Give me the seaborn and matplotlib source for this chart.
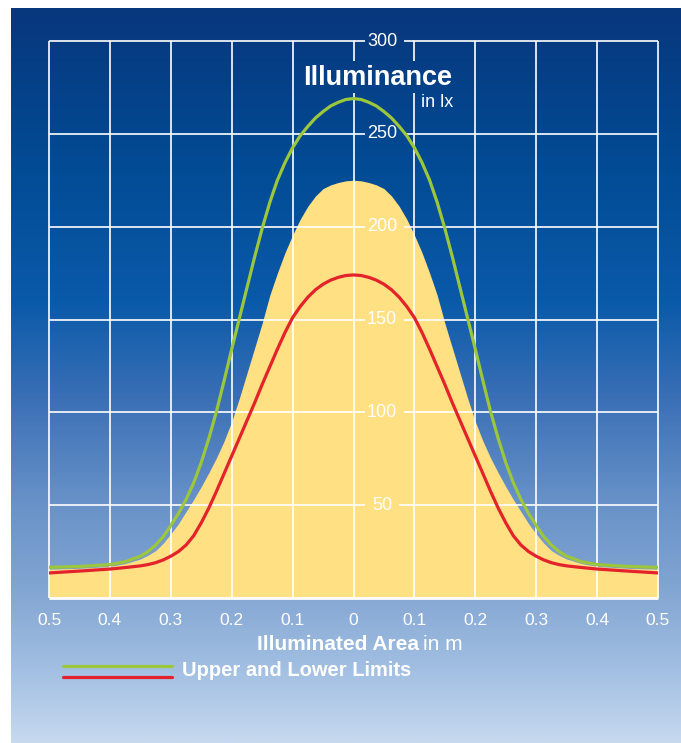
import numpy as np
import seaborn as sns
import matplotlib.pyplot as plt
from matplotlib.colors import LinearSegmentedColormap
from matplotlib.lines import Line2D

# Positions along the illuminated area (m), negative = left half
x_pos = [-0.5, -0.45, -0.4, -0.375, -0.35, -0.3375, -0.325, -0.3125, -0.3, -0.2875,
         -0.275, -0.2625, -0.25, -0.2375, -0.225, -0.2125, -0.2, -0.1875, -0.175, -0.1625,
         -0.15, -0.1375, -0.125, -0.1125, -0.1, -0.0875, -0.075, -0.0625, -0.05, -0.0375,
         -0.025, -0.0125,
         0.0,
         0.0125, 0.025, 0.0375, 0.05, 0.0625, 0.075, 0.0875, 0.1, 0.1125, 0.125,
         0.1375, 0.15, 0.1625, 0.175, 0.1875, 0.2, 0.2125, 0.225, 0.2375, 0.25,
         0.2625, 0.275, 0.2875, 0.3, 0.3125, 0.325, 0.3375, 0.35, 0.375, 0.4, 0.45, 0.5]

# Illuminance in lx
nominal = [15.5, 16, 17, 18.5, 21, 23, 25.5, 29.5, 34.5, 40, 46.5, 53, 60, 67.5, 75.5, 84.5,
           95, 107.5, 121, 134.5, 148, 163, 175, 186, 195.5, 204, 211, 216.5, 220.5, 222.5,
           223.8, 224.7,
           225,
           224.7, 223.8, 222.5, 220.5, 216.5, 211, 204, 195.5, 186, 175, 163, 148, 134.5,
           121, 107.5, 95, 84.5, 75.5, 67.5, 60, 53, 46.5, 40, 34.5, 29.5, 25.5, 23, 21,
           18.5, 17, 16, 15.5]
upper = [16.5, 17, 18, 19.5, 22.5, 25, 28.5, 33, 39, 45.5, 53, 62, 73, 86, 100.5, 117,
         134, 150.5, 167, 183.5, 199, 213, 225, 234.5, 242.5, 249, 254, 258.5, 262, 265,
         267, 268.5,
         269,
         268.5, 267, 265, 262, 258.5, 254, 249, 242.5, 234.5, 225, 213, 199, 183.5, 167,
         150.5, 134, 117, 100.5, 86, 73, 62, 53, 45.5, 39, 33, 28.5, 25, 22.5, 19.5, 18,
         17, 16.5]
lower = [13.5, 14.5, 15.6, 16.4, 17.3, 18, 19, 20.5, 22.5, 25, 28.5, 33.5, 40.5, 48.5,
         57.5, 67, 76.5, 86, 95.5, 105, 115, 124.5, 134, 143, 151, 157, 162, 166, 169,
         171.2, 172.7, 173.7,
         174,
         173.7, 172.7, 171.2, 169, 166, 162, 157, 151, 143, 134, 124.5, 115, 105, 95.5,
         86, 76.5, 67, 57.5, 48.5, 40.5, 33.5, 28.5, 25, 22.5, 20.5, 19, 18, 17.3, 16.4,
         15.6, 14.5, 13.5]

x_ticks = [-0.5, -0.4, -0.3, -0.2, -0.1, 0.0, 0.1, 0.2, 0.3, 0.4, 0.5]
x_tick_labels = ["0.5", "0.4", "0.3", "0.2", "0.1", "0", "0.1", "0.2", "0.3", "0.4", "0.5"]
y_ticks = [50, 100, 150, 200, 250, 300]

sns.set_style("white")
plt.rcParams['font.family'] = ['Liberation Sans', 'DejaVu Sans']

W, H = 681, 743
fig = plt.figure(figsize=(W / 100, H / 100), dpi=100, facecolor="white")

# blue gradient backdrop
stops = [(0.0, "#08377d"), (0.2, "#024a93"), (0.4, "#0a5aaa"), (0.53, "#3a6fb6"),
         (0.67, "#6791c8"), (0.8, "#84a7d3"), (0.9, "#a2bfe2"), (1.0, "#c6d9ef")]
cmap = LinearSegmentedColormap.from_list("bg", stops)
ax_bg = fig.add_axes([11 / W, 0, 1 - 11 / W, 1 - 8 / H])
ax_bg.imshow(np.linspace(0, 1, 256)[:, None], aspect="auto", cmap=cmap, extent=[0, 1, 0, 1])
ax_bg.axis("off")

ax = fig.add_axes([49 / W, 1 - 598 / H, 609 / W, 557 / H])
ax.set_facecolor("none")
ax.set_xlim(-0.5, 0.5)
ax.set_ylim(0, 300)

ax.fill_between(x_pos, 0, nominal, color="#ffe082", lw=0, zorder=1)

# grid, with gaps where the labels sit
grid_kw = dict(color="white", lw=1.2, zorder=2, clip_on=False)
for xv in x_ticks:
    if xv in (0.0, 0.1):
        ax.vlines(xv, 0, 272, **grid_kw)
        ax.vlines(xv, 289, 300, **grid_kw)
    else:
        ax.vlines(xv, 0, 300, **grid_kw)
for yv in y_ticks:
    gap_end = 0.074 if yv < 100 else 0.083
    ax.hlines(yv, -0.5, 0.019, **grid_kw)
    ax.hlines(yv, gap_end, 0.5, **grid_kw)
    ax.text(0.047, yv, str(yv), color="white", fontsize=13, ha="center", va="center",
            zorder=5)
ax.hlines(0, -0.5, 0.5, color="white", lw=2, zorder=3, clip_on=False)

sns.lineplot(x=x_pos, y=upper, ax=ax, color="#9cc63b", linewidth=2.3, zorder=4)
sns.lineplot(x=x_pos, y=lower, ax=ax, color="#e4222b", linewidth=2.3, zorder=4)

for s in ax.spines.values():
    s.set_visible(False)
ax.set_yticks([])
ax.set_xticks(x_ticks)
ax.set_xticklabels(x_tick_labels)
ax.tick_params(axis="x", colors="white", length=7, width=1.2, pad=4, labelsize=12.5)
ax.grid(False)

ax.text(0.04, 276.5, "Illuminance", color="white", fontsize=19.5, fontweight="bold",
        ha="center", va="baseline", zorder=5)
ax.text(0.111, 264.5, "in lx", color="white", fontsize=13, ha="left", va="baseline", zorder=5)

ax.text(0.1076, -28, "Illuminated Area", color="white", fontsize=15, fontweight="bold",
        ha="right", va="baseline", clip_on=False)
ax.text(0.114, -28, "in m", color="white", fontsize=15, ha="left", va="baseline",
        clip_on=False)

# legend
fig.add_artist(Line2D([63 / W, 172 / W], [1 - 666 / H, 1 - 666 / H], color="#9cc63b", lw=2.3))
fig.add_artist(Line2D([63 / W, 172 / W], [1 - 677 / H, 1 - 677 / H], color="#e4222b", lw=2.3))
fig.text(182 / W, 1 - 676 / H, "Upper and Lower Limits", color="white", fontsize=14.5,
         fontweight="bold", ha="left", va="baseline")

fig.savefig("out.png", dpi=100, facecolor="white")
